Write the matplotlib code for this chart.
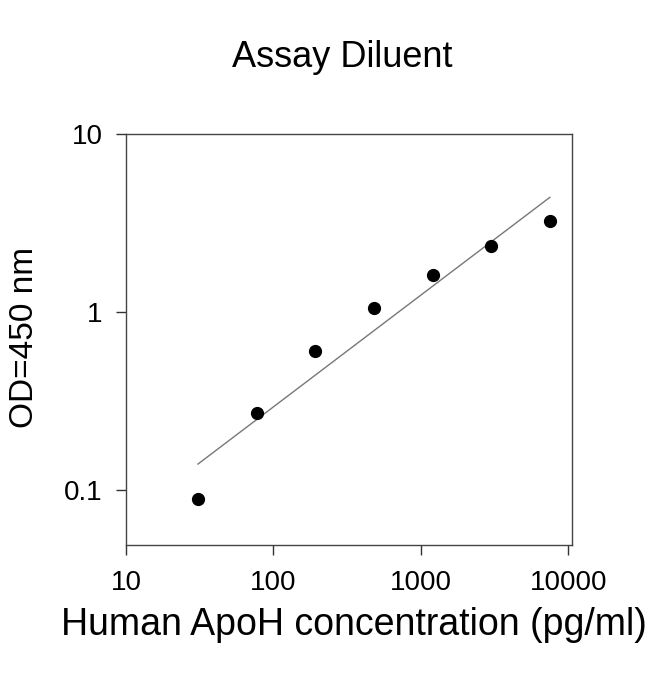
import numpy as np
from matplotlib import pyplot as plt
from matplotlib.ticker import FixedLocator, FixedFormatter, NullLocator

# standard concentrations (pg/ml) and OD readings
conc = [30.72, 76.8, 192, 480, 1200, 3000, 7500]
od = [0.0887, 0.270, 0.604, 1.048, 1.61, 2.35, 3.24]

x_ticks = [10, 100, 1000, 10000]
x_labels = ["10", "100", "1000", "10000"]
y_ticks = [0.1, 1, 10]
y_labels = ["0.1", "1", "10"]

plt.rcParams["font.family"] = ["Liberation Sans", "DejaVu Sans"]

fig = plt.figure(figsize=(6.5, 6.74), dpi=100)
ax = fig.add_axes([0.194, 0.191, 0.686, 0.610])

# log-log linear fit through the standards
lx = np.log10(conc)
ly = np.log10(od)
k, b = np.polyfit(lx, ly, 1)
fit_x = np.array([conc[0], conc[-1]])
ax.plot(fit_x, 10 ** (k * np.log10(fit_x) + b), color="#777777", linewidth=1)

ax.plot(conc, od, "o", color="black", markersize=8.5)

ax.set_xscale("log")
ax.set_yscale("log")
ax.set_xlim(10, 10600)
ax.set_ylim(0.049, 10)

ax.xaxis.set_major_locator(FixedLocator(x_ticks))
ax.xaxis.set_major_formatter(FixedFormatter(x_labels))
ax.yaxis.set_major_locator(FixedLocator(y_ticks))
ax.yaxis.set_major_formatter(FixedFormatter(y_labels))
ax.xaxis.set_minor_locator(NullLocator())
ax.yaxis.set_minor_locator(NullLocator())

ax.tick_params(axis="both", direction="out", length=7, width=1, color="#333333",
               labelsize=20, pad=10)
ax.tick_params(axis="x", pad=11)

for s in ax.spines.values():
    s.set_color("#444444")
    s.set_linewidth(1)

fig.text(0.526, 0.915, "Assay Diluent", ha="center", va="center", fontsize=26)
fig.text(0.545, 0.072, "Human ApoH concentration (pg/ml)", ha="center", va="center", fontsize=27)
fig.text(0.038, 0.50, "OD=450 nm", ha="center", va="center", rotation=90, fontsize=24)

plt.savefig("out.png", dpi=100)
